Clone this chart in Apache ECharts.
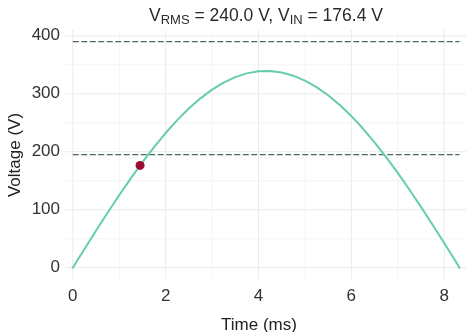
<!DOCTYPE html>
<html>
<head>
<meta charset="utf-8">
<script src="https://cdn.jsdelivr.net/npm/echarts@6/dist/echarts.min.js"></script>
<style>html,body{margin:0;padding:0;background:#fff}#c{width:466px;height:332px}</style>
</head>
<body>
<div id="c"></div>
<script>
// ---- data ----
var timeMs = [0, 0.25, 0.5, 0.75, 1.0, 1.25, 1.5, 1.75, 2.0, 2.25, 2.5, 2.75, 3.0, 3.25, 3.5, 3.75, 4.0, 4.25, 4.5, 4.75, 5.0, 5.25, 5.5, 5.75, 6.0, 6.25, 6.5, 6.75, 7.0, 7.25, 7.5, 7.75, 8.0, 8.25, 8.33];
var voltage = [0, 31.9, 63.6, 94.7, 124.9, 154.1, 181.8, 208.0, 232.3, 254.6, 274.6, 292.1, 307.1, 319.3, 328.7, 335.2, 338.7, 339.2, 336.7, 331.2, 322.8, 311.5, 297.4, 280.7, 261.5, 240.0, 216.3, 190.8, 163.5, 134.8, 104.9, 74.0, 42.5, 10.7, 0];
var thresholdLevels = [390, 195];
var thresholdSpan = [0, 8.33];
var inputPoint = [1.45, 176.4];
var xTicks = [0, 2, 4, 6, 8];
var xMinor = [1, 3, 5, 7];
var yTicks = [0, 100, 200, 300, 400];
var yMinor = [50, 150, 250, 350];
var titleParts = ['V', 'RMS', ' = 240.0 V, V', 'IN', ' = 176.4 V'];

var FONT = 'Liberation Sans, Arial, sans-serif';
var chart = echarts.init(document.getElementById('c'), null, {renderer: 'canvas'});

function data2(xs, ys) { return xs.map(function (x, i) { return [x, ys[i]]; }); }

var series = [];
// grid lines drawn as plain line series through the axes
yMinor.forEach(function (v) { series.push({type: 'line', data: [[-0.167, v], [8.47, v]], symbol: 'none', silent: true, z: 0, lineStyle: {color: '#f4f4f4', width: 1}}); });
xMinor.forEach(function (v) { series.push({type: 'line', data: [[v, -19.5], [v, 410]], symbol: 'none', silent: true, z: 0, lineStyle: {color: '#f4f4f4', width: 1}}); });
yTicks.forEach(function (v) { series.push({type: 'line', data: [[-0.167, v], [8.47, v]], symbol: 'none', silent: true, z: 1, lineStyle: {color: '#ebebeb', width: 1}}); });
xTicks.forEach(function (v) { series.push({type: 'line', data: [[v, -19.5], [v, 410]], symbol: 'none', silent: true, z: 1, lineStyle: {color: '#ebebeb', width: 1}}); });

thresholdLevels.forEach(function (lv) {
  series.push({
    type: 'line', data: thresholdSpan.map(function (x) { return [x, lv]; }),
    symbol: 'none', silent: true, z: 2,
    lineStyle: {color: '#4a6a62', width: 1.4, type: [6, 2.5]}
  });
});
series.push({
  type: 'line', data: data2(timeMs, voltage), symbol: 'none', smooth: false, z: 3,
  lineStyle: {color: '#66cdaa', width: 2, cap: 'round', join: 'round'}
});
series.push({
  type: 'scatter', data: [inputPoint], symbolSize: 9, z: 4,
  itemStyle: {color: '#9b0d2f', opacity: 1}
});

chart.setOption({
  animation: false,
  backgroundColor: '#fff',
  title: {
    text: '{v|' + titleParts[0] + '}{s|' + titleParts[1] + '}{v|' + titleParts[2] + '}{s|' + titleParts[3] + '}{v|' + titleParts[4] + '}',
    left: 261, top: 0, textAlign: 'center',
    textStyle: {
      fontWeight: 'normal',
      rich: {
        v: {fontSize: 17.5, fontWeight: 'normal', fontFamily: FONT, color: '#2a2a2a', lineHeight: 22, verticalAlign: 'bottom', padding: [0, 0, 2, 0]},
        s: {fontSize: 13, fontWeight: 'normal', fontFamily: FONT, color: '#2a2a2a', lineHeight: 22, verticalAlign: 'bottom', padding: [0, 0, 0, 0]}
      }
    }
  },
  grid: {left: 65, right: 0, top: 30, bottom: 53, containLabel: false},
  xAxis: {
    type: 'value', min: -0.167, max: 8.47,
    axisLine: {show: false}, axisTick: {show: false}, splitLine: {show: false},
    axisLabel: {customValues: xTicks, fontSize: 17, fontFamily: FONT, color: '#333', margin: 9}
  },
  yAxis: {
    type: 'value', min: -19.5, max: 410,
    axisLine: {show: false}, axisTick: {show: false}, splitLine: {show: false},
    axisLabel: {customValues: yTicks, fontSize: 17, fontFamily: FONT, color: '#333', margin: 5}
  },
  graphic: [
    {type: 'text', x: 259, y: 325, style: {text: 'Time (ms)', textAlign: 'center', textVerticalAlign: 'middle', fontSize: 17, fontFamily: FONT, fill: '#222'}},
    {type: 'text', rotation: Math.PI / 2, x: 15, y: 155, style: {text: 'Voltage (V)', textAlign: 'center', textVerticalAlign: 'middle', fontSize: 17, fontFamily: FONT, fill: '#222'}}
  ],
  series: series
});
</script>
</body>
</html>
